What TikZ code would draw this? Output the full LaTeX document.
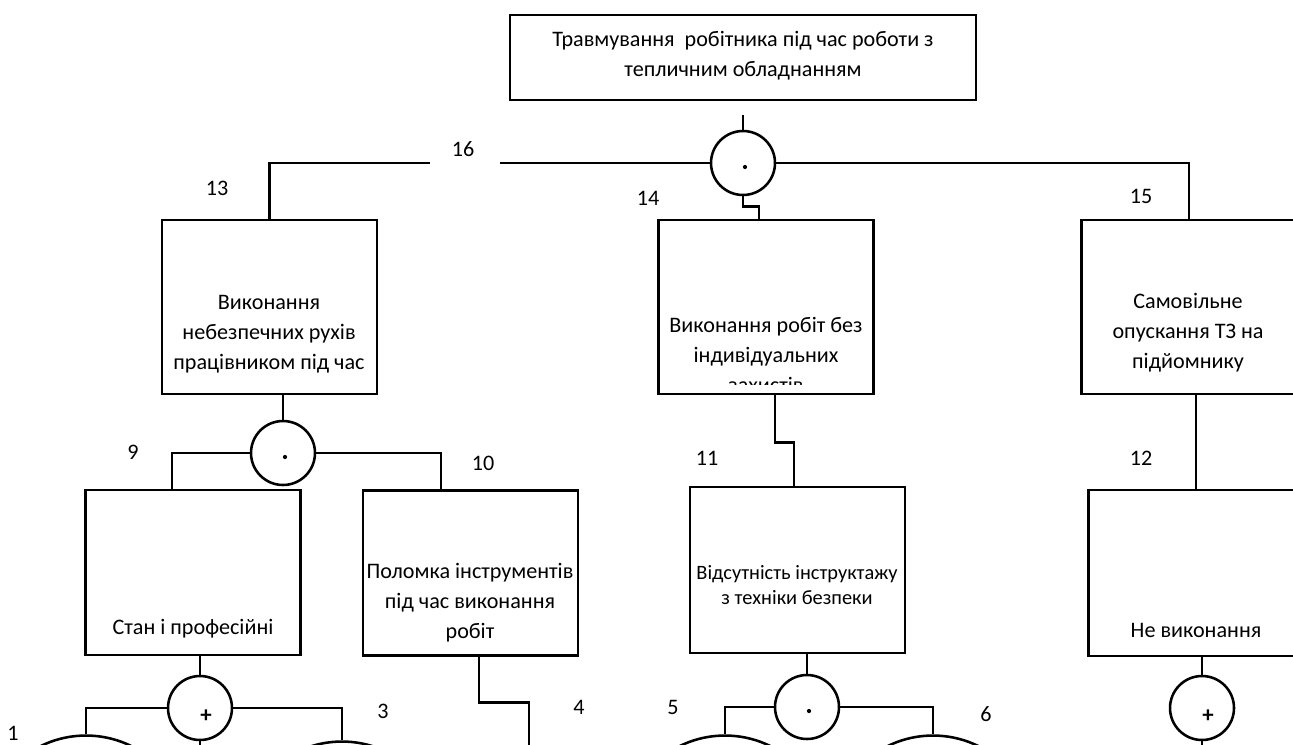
\documentclass[tikz,border=0pt]{standalone}
\usepackage{fontspec}
\setmainfont{Carlito}
\usetikzlibrary{positioning}
\tikzset{
  evbox/.style={draw, minimum width=4.3cm, minimum height=3.48cm, inner sep=0pt},
  gate/.style={draw, circle, minimum size=1.28cm, inner sep=0pt},
  evcirc/.style={draw, circle, minimum size=4.1cm, inner sep=0pt},
  txt/.style={align=center, font=\fontsize{12.6}{17}\selectfont, inner sep=0pt},
  num/.style={font=\fontsize{12.6}{14}\selectfont, inner sep=0pt},
  gsym/.style={font=\bfseries\fontsize{13}{14}\selectfont, inner sep=0pt}
}

\begin{document}
\begin{tikzpicture}[x=0.02cm, y=-0.02cm, line width=1.45pt]
  \clip (0,0) rectangle (1293,744);
  % top event
  \node[evbox, minimum width=9.32cm, minimum height=1.7cm] (top) at (743,57.5) {};
  \node[txt] at (743,56) {Травмування\ \ робітника під час роботи з\\тепличним обладнанням};
  \node[gate] (g16) at (743,163) {};
  \fill ([shift={(2,4)}]g16.center) circle (1.2pt);
  \coordinate (stub) at (743,115);
  \coordinate (l16a) at (500,163);
  \coordinate (l16b) at (430,163);
  % level 1
  \node[evbox] (b13) at (269.5,307) {};
  \node[evbox] (b14) at (766,307) {};
  \node[evbox] (b15) at (1189,307) {};
  \node[txt] at (269,334) {Виконання\\небезпечних рухів\\працівником під час};
  \begin{scope}
    \clip (659,220) rectangle (873,384);
    \node[txt] at (766,355) {Виконання робіт без\\індивідуальних\\захистів};
  \end{scope}
  \node[txt] at (1188,333) {Самовільне\\опускання ТЗ на\\підйомнику};
  \node[gate] (g9) at (283,453) {};
  \fill ([shift={(2,4)}]g9.center) circle (1.2pt);
  % level 2
  \node[evbox, minimum height=3.3cm] (b9) at (193,572.5) {};
  \node[evbox, minimum height=3.3cm] (b10) at (470.5,573) {};
  \node[evbox, minimum height=3.32cm] (b11) at (797.5,570) {};
  \node[evbox, minimum height=3.32cm] (b12) at (1196,573) {};
  \node[txt] at (193,629) {Стан і професійні};
  \node[txt] at (470,603) {Поломка інструментів\\під час виконання\\робіт};
  \node[txt, font=\fontsize{11.6}{14.5}\selectfont] at (797,585) {Відсутність інструктажу\\з техніки безпеки};
  \node[txt] at (1196,630) {Не виконання};
  \node[gate] (g1) at (200,708) {};
  \node[gsym] at ([shift={(6,8)}]g1.center) {+};
  \node[gate] (g5) at (807,707) {};
  \fill ([shift={(2,4)}]g5.center) circle (1.2pt);
  \node[gate] (g12) at (1202,708) {};
  \node[gsym] at ([shift={(6,8)}]g12.center) {+};
  % basic events
  \node[evcirc] (e1) at (86,838) {};
  \node[evcirc] (e3) at (342,844) {};
  \node[evcirc] (e5) at (725,838) {};
  \node[evcirc] (e6) at (933,838) {};
  \coordinate (e4) at (529,760);
  % connectors
  \draw (g16.north) -- (stub);
  \draw (g16.west) -- (l16a);
  \draw (l16b) -| (b13.north);
  \draw (g16.east) -| (b15.north);
  \draw (g16.south) -- ++(0,10) -| ([xshift=-0.14cm]b14.north);
  \draw (b13.south -| g9.north) -- (g9.north);
  \draw (g9.west) -| ([xshift=-0.42cm]b9.north);
  \draw (g9.east) -| ([xshift=-0.59cm]b10.north);
  \draw ([xshift=0.18cm]b14.south) -- ++(0,47) -| ([xshift=-0.07cm]b11.north);
  \draw (b15.south -| b12.north) -- (b12.north);
  \draw (b9.south -| g1.north) -- (g1.north);
  \draw (g1.west) -| (e1.north);
  \draw (g1.east) -| (e3.north);
  \draw (g1.south) -- ++(0,40);
  \draw ([xshift=0.17cm]b10.south) -- ++(0,46) -| (e4);
  \draw (b11.south -| g5.north) -- (g5.north);
  \draw (g5.west) -| (e5.north);
  \draw (g5.east) -| (e6.north);
  \draw (b12.south -| g12.north) -- (g12.north);
  \draw (g12.south) -- ++(0,40);
  % numbers
  \node[num] at (463,149) {16};
  \node[num] at (217,188) {13};
  \node[num] at (648,198) {14};
  \node[num] at (1141,196) {15};
  \node[num] at (133,452) {9};
  \node[num] at (483,463) {10};
  \node[num] at (707,458) {11};
  \node[num] at (1141,458) {12};
  \node[num] at (13,733) {1};
  \node[num] at (383,711) {3};
  \node[num] at (579,707) {4};
  \node[num] at (673,707) {5};
  \node[num] at (986,714) {6};
\end{tikzpicture}
\end{document}
